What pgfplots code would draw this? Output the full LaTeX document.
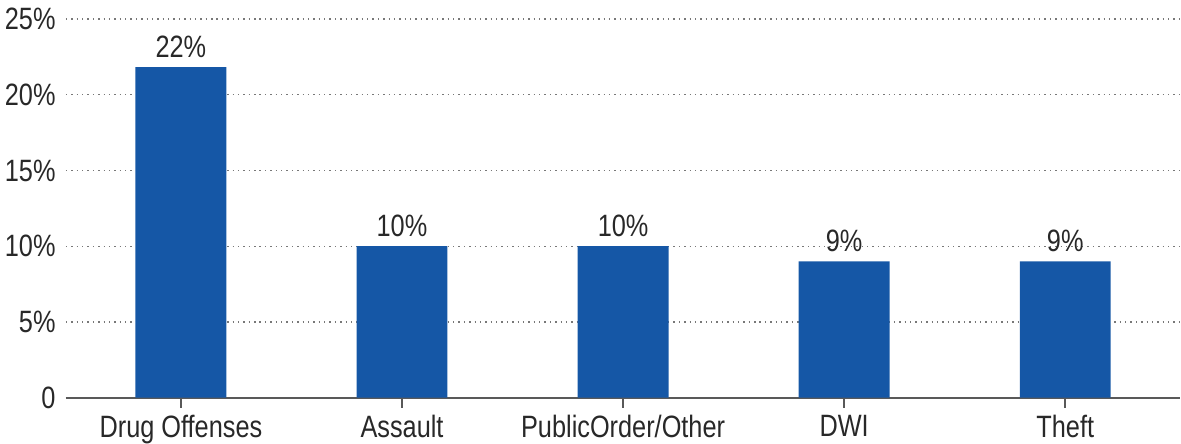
\documentclass[border=0pt]{standalone}
\usepackage{fontspec}
\setmainfont[FakeStretch=0.82]{Liberation Sans}
\usepackage{pgfplots}
\pgfplotsset{compat=1.18}
\definecolor{barblue}{RGB}{21,87,166}
\definecolor{txt}{RGB}{40,40,40}
\definecolor{gridc}{RGB}{120,120,120}
\begin{document}
\begin{tikzpicture}
\begin{axis}[
  scale only axis,
  width=557.5bp, height=189.5bp,
  xmin=-0.52, xmax=4.52,
  ymin=0, ymax=25,
  axis x line*=bottom,
  axis y line*=left,
  x axis line style={draw=black!65, line width=0.8pt},
  y axis line style={draw=none},
  xtick={0,1,2,3,4},
  xticklabels={Drug Offenses,Assault,PublicOrder/Other,DWI,Theft},
  ytick={0,5,10,15,20,25},
  yticklabels={0,5\%,10\%,15\%,20\%,25\%},
  ymajorgrids,
  major grid style={draw=gridc, line width=0.6pt, dash pattern=on 0.7pt off 2pt},
  tick align=outside,
  major tick length=5bp,
  xtick style={draw=black!65, line width=0.8pt},
  ytick style={draw=none},
  tick label style={font=\fontsize{15.5}{18}\selectfont, text=txt},
  yticklabel style={inner sep=0pt, xshift=0bp},
  xticklabel style={inner sep=0pt, yshift=-3.5bp},
  clip=false,
]
\addplot[ybar, bar width=45.5bp, fill=barblue, draw=none,
  point meta=explicit symbolic,
  nodes near coords,
  every node near coord/.append style={anchor=south, inner sep=0pt, yshift=4.5bp, font=\fontsize{15.5}{18}\selectfont, text=txt}]
  coordinates {(0,21.83) [22\%] (1,10) [10\%] (2,10) [10\%] (3,9) [9\%] (4,9) [9\%]};
\end{axis}
\path (current axis.south west) ++(-33bp,-23bp) coordinate (bl);
\path (current axis.north east) ++(0bp,9.5bp) coordinate (tr);
\path[use as bounding box] (bl) rectangle (tr);
\end{tikzpicture}
\end{document}
